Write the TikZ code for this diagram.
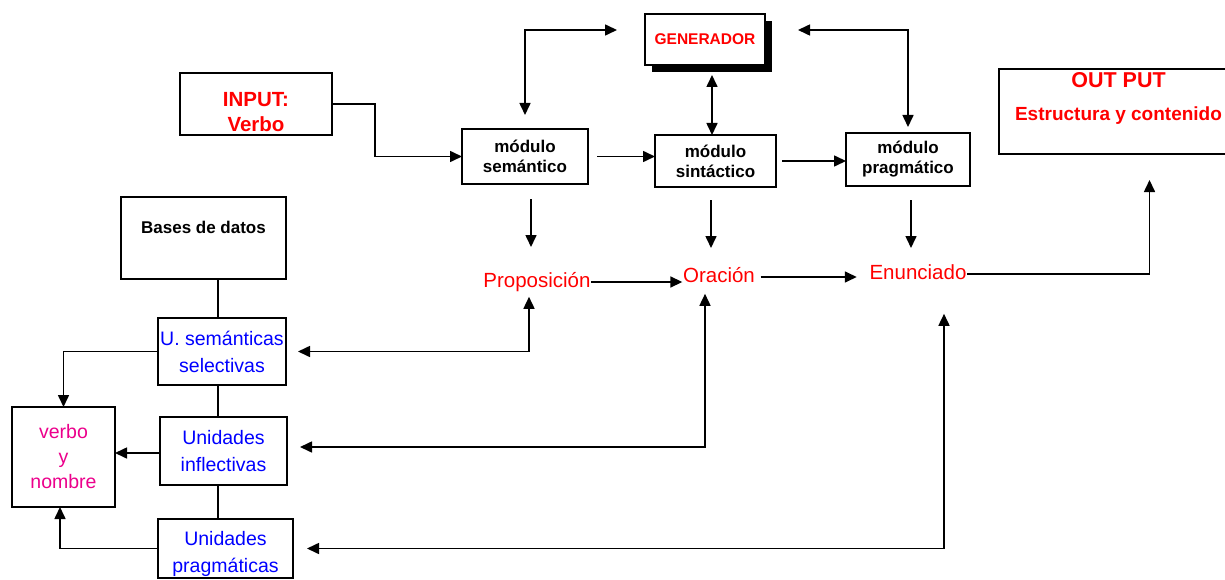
\documentclass[tikz,border=0pt]{standalone}
\usepackage{fontspec}
\setmainfont{Liberation Sans}
\usetikzlibrary{arrows.meta,shadows}

\begin{document}
\begin{tikzpicture}[
        x=1pt, y=-1pt,
        line width=1.6pt,
        >={Triangle[length=12pt,width=11pt]},
        box/.style={draw, fill=white, inner sep=0pt, outer sep=0pt, align=center},
        modulo/.style={box, font=\bfseries\fontsize{17}{20}\selectfont},
        unidad/.style={box, text=blue, font=\fontsize{19.5}{27}\selectfont},
        titulo/.style={text=red, align=center, font=\bfseries\fontsize{20.5}{25}\selectfont},
        palabra/.style={inner sep=0pt, text=red, text height=14pt, text depth=4pt, font=\fontsize{20.5}{23}\selectfont},
      ]
      \useasboundingbox (0,0) rectangle (1225,580);
      \clip (0,0) rectangle (1225,580);

      % cajas
      \node[box, minimum width=152pt, minimum height=62pt,
        label={[titulo, yshift=-8pt]center:{INPUT:\\ Verbo}}] (input) at (256,104) {};
      \node[box, drop shadow={shadow xshift=7pt, shadow yshift=-7pt, fill=black, opacity=1},
        minimum width=120pt, minimum height=51pt, text=red,
        font=\bfseries\fontsize{15.5}{17}\selectfont] (gen) at (705,39.5) {GENERADOR};
      \node[modulo, minimum width=126pt, minimum height=55pt] (sem) at (525,156.5) {módulo\\semántico};
      \node[modulo, minimum width=121pt, minimum height=52pt] (sin) at (715.5,161) {módulo\\sintáctico};
      \node[modulo, minimum width=124pt, minimum height=53pt] (prag) at (908,159.5) {módulo\\pragmático};
      \node[box, minimum width=241pt, minimum height=85pt,
        label={[titulo, xshift=-1pt, yshift=13pt, font=\bfseries\fontsize{21.5}{33}\selectfont]center:{OUT PUT\\ \fontsize{19}{33}\selectfont Estructura y contenido}}] (out) at (1119.5,111.5) {};
      \node[box, minimum width=165pt, minimum height=82pt,
        label={[yshift=11pt, font=\bfseries\fontsize{17}{19}\selectfont]center:Bases de datos}] (bases) at (203.5,238) {};
      \node[unidad, minimum width=128pt, minimum height=67pt] (usem) at (222,351.5) {U. semánticas\\selectivas};
      \node[unidad, minimum width=127pt, minimum height=68pt] (uinf) at (223.5,451) {Unidades\\inflectivas};
      \node[box, minimum width=135pt, minimum height=59pt,
        label={[text=blue, align=center, yshift=-5pt, font=\fontsize{19.5}{27}\selectfont]center:{Unidades\\pragmáticas}}] (uprag) at (225.5,548.5) {};
      \node[box, minimum width=103pt, minimum height=100pt, text=magenta,
        font=\fontsize{19.5}{25}\selectfont] (verbo) at (63.5,457) {verbo\\y\\nombre};

      % productos
      \node[palabra] (prop) at (537,282) {Proposición};
      \node[palabra] (orac) at (719,277) {Oración};
      \node[palabra] (enun) at (918,274) {Enunciado};

      % flujo principal
      \draw[->] (input.east) -- ++(43,0) |- (sem.west);
      \draw[->] ([xshift=9pt]sem.east) -- (sem.east -| sin.west);
      \draw[->] ([xshift=6pt]sin.east) -- (sin.east -| prag.west);

      % generador
      \draw[<->] ([xshift=-28pt,yshift=9.5pt]gen.west) -| ([yshift=14pt]sem.north);
      \draw[<->] ([xshift=33pt,yshift=9.5pt]gen.east) -| ([yshift=6pt]prag.north);
      \draw[<->] ([xshift=7pt,yshift=-10pt]gen.south) -- ([xshift=7pt]gen.south |- sin.north);

      % salidas de los modulos
      \draw[->] ([xshift=6pt,yshift=-15pt]sem.south) -- ++(0,48);
      \draw[->] ([xshift=-4.5pt,yshift=-13pt]sin.south) -- ++(0,48);
      \draw[->] ([xshift=3pt,yshift=-14pt]prag.south) -- ++(0,48);
      \draw[->] (prop.east) -- (prop.east -| orac.west);
      \draw[->] ([xshift=5pt]orac.east) -- ([xshift=-12pt]orac.east -| enun.west);
      \draw[->] (enun.east) -| ([xshift=30pt,yshift=-26pt]out.south);

      % bases de datos y unidades
      \draw ([xshift=-4pt]usem.north) -- ([xshift=-4pt]usem.north |- bases.south);
      \draw ([xshift=-4pt]usem.south) -- ([xshift=-4pt]usem.south |- uinf.north);
      \draw ([xshift=-5.5pt]uinf.south) -- ([xshift=-5.5pt]uinf.south |- uprag.north);
      \draw[->] (usem.west) -| (verbo.north);
      \draw[->] ([yshift=-2pt]uinf.west) -- ([yshift=-2pt]uinf.west -| verbo.east);
      \draw[->] (uprag.west) -| ([xshift=-3.5pt]verbo.south);

      % retornos
      \draw[<->] ([xshift=12pt]usem.east) -| ([xshift=-8pt,yshift=-5pt]prop.south);
      \draw[<->] ([xshift=13pt,yshift=4pt]uinf.east) -| ([xshift=-14pt,yshift=-7pt]orac.south);
      \draw[<->] ([xshift=14pt]uprag.east) -| ([xshift=26pt,yshift=-30pt]enun.south);

    \end{tikzpicture}
\end{document}
